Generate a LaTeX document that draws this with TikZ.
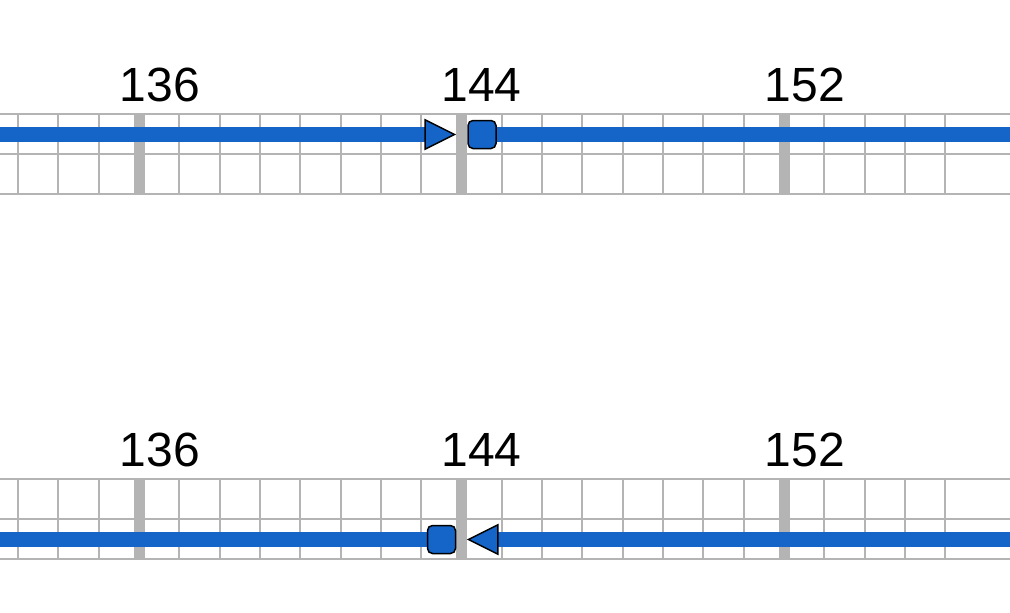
\documentclass[tikz,border=0pt]{standalone}
\usepackage{fontspec}
\setmainfont{Liberation Sans}
\usetikzlibrary{shapes.geometric}
\definecolor{gridgrey}{RGB}{180,180,180}
\definecolor{trackblue}{RGB}{21,101,200}
\tikzset{
  thingrid/.style={draw=gridgrey, line width=2pt},
  majorgrid/.style={draw=gridgrey, line width=11pt},
  track/.style={draw=trackblue, line width=15pt},
  ticklabel/.style={font=\fontsize{48}{48}\selectfont, anchor=base, inner sep=0pt},
  tri/.style={isosceles triangle, isosceles triangle stretches, draw=black, line width=1.5pt,
    fill=trackblue, minimum width=29.5pt, minimum height=29.5pt, inner sep=0pt},
  sq/.style={rectangle, rounded corners=5pt, draw=black, line width=1.5pt, fill=trackblue,
    minimum size=28pt, inner sep=0pt}
}
\begin{document}
\begin{tikzpicture}[x=1pt,y=-1pt]
\useasboundingbox (0,0) rectangle (1010,613);
% grids
\foreach \y/\a/\b in {0/114/194, 1/479/559}{
  \foreach \i in {-3,...,20}{
    \pgfmathsetmacro{\xx}{139+\i*40.3125}
    \draw[thingrid] (\xx,\a) -- (\xx,\b);
  }
  \draw[thingrid] (0,\a) -- (1010,\a);
  \draw[thingrid] (0,{(\a+\b)/2}) -- (1010,{(\a+\b)/2});
  \draw[thingrid] (0,\b) -- (1010,\b);
  \foreach \xx in {139,461.5,784}{
    \draw[majorgrid] (\xx,\a) -- (\xx,\b);
  }
}
% labels
\node[ticklabel] (a136) at (160,101.5) {136};
\node[ticklabel] (a144) at (481.5,101.5) {144};
\node[ticklabel] (a152) at (805,101.5) {152};
\node[ticklabel] (b136) at (160,466.5) {136};
\node[ticklabel] (b144) at (481.5,466.5) {144};
\node[ticklabel] (b152) at (805,466.5) {152};
% top track
\coordinate (tl) at (0,134.5);
\coordinate (tr) at (1010,134.5);
\coordinate (ttip) at (456.5,134.5);
\coordinate (tsq) at (482,134.5);
\draw[track] (tl) -- (442,134.5);
\draw[track] (tsq) -- (tr);
\node[tri, shape border rotate=0, anchor=apex] (toparrow) at (ttip) {};
\node[sq] (topstop) at (tsq) {};
% bottom track
\coordinate (bl) at (0,539.5);
\coordinate (br) at (1010,539.5);
\coordinate (bsq) at (441.5,539.5);
\coordinate (btip) at (466.5,539.5);
\draw[track] (bl) -- (bsq);
\draw[track] (481,539.5) -- (br);
\node[sq] (botstop) at (bsq) {};
\node[tri, shape border rotate=180, anchor=apex] (botarrow) at (btip) {};
\end{tikzpicture}
\end{document}
